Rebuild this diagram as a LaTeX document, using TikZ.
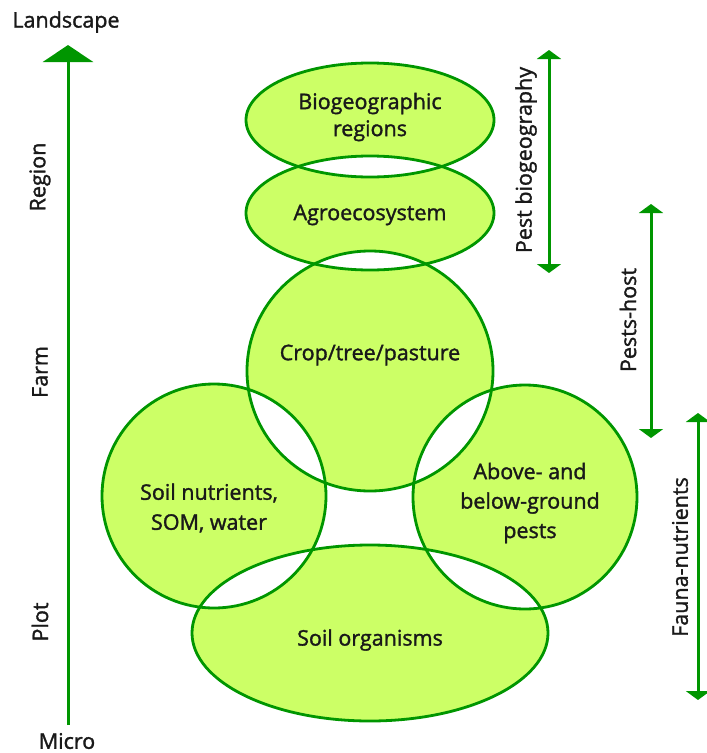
\documentclass[tikz,border=0pt]{standalone}
\usepackage{fontspec}
\setmainfont{Open Sans}
\newfontfamily\heavy{Open Sans}[FakeBold=1.5]
\usetikzlibrary{shapes.geometric,arrows.meta}
\definecolor{leaf}{RGB}{204,255,102}
\definecolor{rim}{RGB}{0,150,0}
\definecolor{ink}{RGB}{25,25,25}
\begin{document}
\begin{tikzpicture}[x=1pt,y=-1pt,
  zone/.style={ellipse,draw=rim,line width=2.8pt,inner sep=0pt},
  lbl/.style={text=ink,font=\heavy\fontsize{21.5}{27}\selectfont,align=center,inner sep=0pt},
  side/.style={text=ink,font=\heavy\fontsize{21.5}{24}\selectfont,inner sep=0pt,rotate=90},
  axis/.style={draw=rim,line width=3pt,-{Triangle[width=50pt,length=17pt]}},
  span/.style={draw=rim,line width=3pt,{Triangle[width=24pt,length=9pt]}-{Triangle[width=24pt,length=9pt]}}]
\useasboundingbox (0,0) rectangle (707,753);

% light green areas; pairwise overlaps stay white
\fill[leaf,even odd rule]
  (370,120) ellipse [x radius=124pt,y radius=57pt]
  (370,213) ellipse [x radius=124pt,y radius=57pt]
  (370,371) ellipse [x radius=123pt,y radius=120pt]
  (214,496) ellipse [x radius=112pt,y radius=112pt]
  (525,497) ellipse [x radius=112pt,y radius=112pt]
  (370,633) ellipse [x radius=178pt,y radius=88pt];

% outlines
\node[zone,minimum width=248pt,minimum height=114pt] (bio) at (370,120) {};
\node[zone,minimum width=248pt,minimum height=114pt] (agro) at (370,213) {};
\node[zone,minimum width=246pt,minimum height=240pt] (crop) at (370,371) {};
\node[zone,minimum width=224pt,minimum height=224pt] (soil) at (214,496) {};
\node[zone,minimum width=224pt,minimum height=224pt] (pest) at (525,497) {};
\node[zone,minimum width=356pt,minimum height=176pt] (org) at (370,633) {};

% texts inside the zones
\node[lbl] (bio-t) at (370,117) {Biogeographic\\regions};
\node[lbl] (agro-t) at (370,215) {Agroecosystem};
\node[lbl] (crop-t) at (370,355) {Crop/tree/pasture};
\node[lbl,font=\heavy\fontsize{21.5}{30}\selectfont] (soil-t) at (209,508) {Soil nutrients,\\SOM, water};
\node[lbl,font=\heavy\fontsize{21.5}{29.5}\selectfont] (pest-t) at (530,503) {Above- and\\below-ground\\pests};
\node[lbl] (org-t) at (370,640) {Soil organisms};

% scale axis
\coordinate (ax-lo) at (68,725);
\coordinate (ax-hi) at (68,45);
\draw[axis] (ax-lo) -- (ax-hi);
\node[lbl] (landscape) at (66,22) {Landscape};
\node[lbl] (micro) at (67,741) {Micro};
\node[side] (region) at (40,177) {Region};
\node[side] (farm) at (40,372) {Farm};
\node[side] (plot) at (40,622) {Plot};

% interaction ranges
\coordinate (pb-hi) at (549,50);
\coordinate (pb-lo) at (549,273);
\draw[span] (pb-lo) -- (pb-hi);
\node[side] (pb-t) at (526,160) {Pest biogeography};
\coordinate (ph-hi) at (651,204);
\coordinate (ph-lo) at (651,438);
\draw[span] (ph-lo) -- (ph-hi);
\node[side] (ph-t) at (628,320) {Pests-host};
\coordinate (fn-hi) at (698,413);
\coordinate (fn-lo) at (698,700);
\draw[span] (fn-lo) -- (fn-hi);
\node[side] (fn-t) at (680,557) {Fauna-nutrients};
\end{tikzpicture}
\end{document}
